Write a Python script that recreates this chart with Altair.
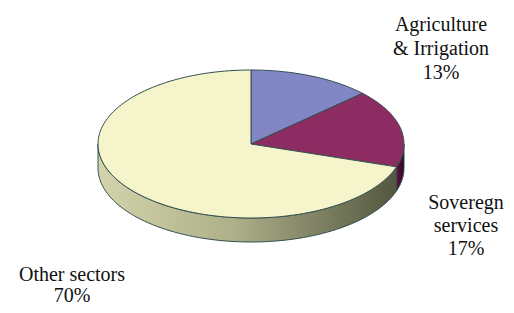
import altair as alt
import numpy as np
import pandas as pd

# ---- data ----
categories = ["Agriculture & Irrigation", "Soveregn services", "Other sectors"]
values = [13, 17, 70]
label_lines = ["Agriculture\n& Irrigation", "Soveregn\nservices", "Other sectors"]

# ---- style / layout ----
top_colors = ["#8286c4", "#8c2c62", "#f6f4ca"]
side_fills = {
    "Soveregn services": alt.Gradient(
        gradient="linear",
        stops=[alt.GradientStop(offset=0, color="#5a1842"),
               alt.GradientStop(offset=1, color="#2e0522")],
        x1=0, x2=1, y1=0, y2=0),
    "Other sectors": alt.Gradient(
        gradient="linear",
        stops=[alt.GradientStop(offset=0, color="#d3d4ab"),
               alt.GradientStop(offset=0.45, color="#aeb08a"),
               alt.GradientStop(offset=1, color="#53573f")],
        x1=0, x2=1, y1=0, y2=0),
}
label_pos = [(441, 30.5), (466, 209), (72, 281)]  # (center x, first baseline y)
label_lh = [24, 23, 21]
CX, CY, RX, RY, DEPTH = 251, 144, 153, 74, 24
OUTLINE = "#34504f"
FONT = "Liberation Serif, Times New Roman, Times, DejaVu Serif, serif"


def pt(theta_deg, dy=0.0):
    t = np.radians(theta_deg)
    return CX + RX * np.sin(t), CY - RY * np.cos(t) + dy


# slice angles from the values (clockwise from 12 o'clock)
total = float(sum(values))
ends = np.cumsum(values) / total * 360.0
starts = np.concatenate([[0.0], ends[:-1]])

top_rows, side_rows = [], []
for cat, a, b in zip(categories, starts, ends):
    n = max(int((b - a) / 2), 4)
    idx = 0
    top_rows.append(dict(slice=cat, i=idx, x=CX, y=CY)); idx += 1
    for th in np.linspace(a, b, n + 1):
        x, y = pt(th)
        top_rows.append(dict(slice=cat, i=idx, x=x, y=y)); idx += 1
    top_rows.append(dict(slice=cat, i=idx, x=CX, y=CY))
    # visible side (front half: 90..270 deg)
    s, e = max(a, 90.0), min(b, 270.0)
    if e > s:
        m = max(int((e - s) / 2), 4)
        j = 0
        arc = np.linspace(s, e, m + 1)
        for th in arc:
            x, y = pt(th)
            side_rows.append(dict(slice=cat, i=j, x=x, y=y)); j += 1
        for th in arc[::-1]:
            x, y = pt(th, DEPTH)
            side_rows.append(dict(slice=cat, i=j, x=x, y=y)); j += 1
        x, y = pt(s)
        side_rows.append(dict(slice=cat, i=j, x=x, y=y))

top_df = pd.DataFrame(top_rows)
side_df = pd.DataFrame(side_rows)

xs = alt.X("x:Q", scale=alt.Scale(domain=[8, 506], nice=False, zero=False), axis=None)
ys = alt.Y("y:Q", scale=alt.Scale(domain=[8, 305], nice=False, zero=False, reverse=True), axis=None)

layers = []
for cat in side_df["slice"].unique():
    layers.append(
        alt.Chart(side_df[side_df["slice"] == cat])
        .mark_line(filled=True, fill=side_fills[cat], stroke=OUTLINE, strokeWidth=1)
        .encode(x=xs, y=ys, order="i:Q")
    )

tops = (
    alt.Chart(top_df)
    .mark_line(filled=True, stroke=OUTLINE, strokeWidth=1, strokeJoin="round")
    .encode(
        x=xs, y=ys, order="i:Q", detail="slice:N",
        color=alt.Color("slice:N", scale=alt.Scale(domain=categories, range=top_colors), legend=None),
    )
)
layers.append(tops)

for l, v, p, lh in zip(label_lines, values, label_pos, label_lh):
    lab_df = pd.DataFrame({"text": [f"{l}\n{v}%"], "x": [p[0]], "y": [p[1]]})
    layers.append(
        alt.Chart(lab_df)
        .mark_text(font=FONT, fontSize=20, lineBreak="\n", lineHeight=lh,
                   align="center", baseline="alphabetic", color="#111111")
        .encode(x=xs, y=ys, text="text:N")
    )

chart = (
    alt.layer(*layers)
    .properties(width=498, height=297, padding=0, autosize="none", background="white")
    .configure_view(stroke=None)
)

chart.save("out.html", embed_options={"renderer": "svg", "actions": False})
